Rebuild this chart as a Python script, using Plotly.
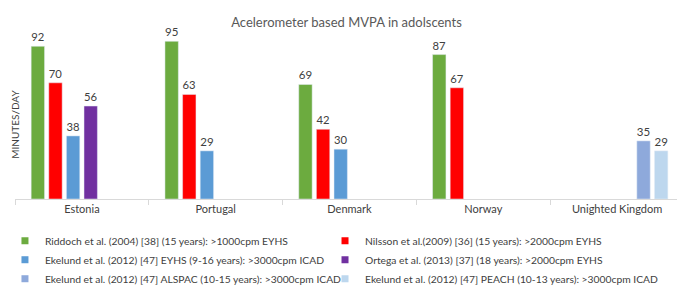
import plotly.graph_objects as go

categories = ["Estonia", "Portugal", "Denmark", "Norway", "Unighted Kingdom"]
series_names = [
    "Riddoch et al. (2004) [38] (15 years): >1000cpm EYHS",
    "Nilsson et al.(2009) [36] (15 years): >2000cpm EYHS",
    "Ekelund et al. (2012) [47] EYHS (9-16 years): >3000cpm ICAD",
    "Ortega et al. (2013) [37] (18 years): >2000cpm EYHS",
    "Ekelund et al. (2012) [47] ALSPAC (10-15 years): >3000cpm ICAD",
    "Ekelund et al. (2012) [47] PEACH (10-13 years): >3000cpm ICAD",
]
riddoch = [92, 95, 69, 87, None]
nilsson = [70, 63, 42, 67, None]
ekelund_eyhs = [38, 29, 30, None, None]
ortega = [56, None, None, None, None]
ekelund_alspac = [None, None, None, None, 35]
ekelund_peach = [None, None, None, None, 29]
series_values = [riddoch, nilsson, ekelund_eyhs, ortega, ekelund_alspac, ekelund_peach]
colors = ["#6CAB3F", "#FF0000", "#5B9BD5", "#7030A0", "#8EA9DB", "#BDD7EE"]
legend_column = ["legend", "legend2", "legend", "legend2", "legend", "legend2"]

FONT = "Lato"
TXT = "#404040"

fig = go.Figure()
for name, vals, col in zip(series_names, series_values, colors):
    fig.add_trace(go.Bar(
        x=categories, y=vals, name=name, marker_color=col, showlegend=False,
        text=[("" if v is None else str(v)) for v in vals],
        textposition="outside", cliponaxis=False,
        textfont=dict(family=FONT, size=11.5, color=TXT),
    ))
# legend entries with small square swatches, in two columns
for name, col, lg in zip(series_names, colors, legend_column):
    fig.add_trace(go.Scatter(
        x=[None], y=[None], mode="markers", name=name, legend=lg,
        marker=dict(symbol="square", size=7, color=col), showlegend=True,
    ))

legend_style = dict(orientation="v", y=-0.164, yanchor="top", xanchor="left",
                    font=dict(family=FONT, size=10.3, color=TXT),
                    itemwidth=30, tracegroupgap=0, traceorder="normal",
                    bgcolor="rgba(0,0,0,0)")

# page body has an 8px margin, so the figure is 677x279 drawn at (8, 8)
fig.update_layout(
    width=677, height=279,
    margin=dict(l=7, r=1, t=25, b=88, autoexpand=False),
    paper_bgcolor="white", plot_bgcolor="white",
    barmode="group", bargap=0.21, bargroupgap=0.24,
    font=dict(family=FONT, color=TXT),
    title=dict(text="Acelerometer based MVPA in adolscents", x=0.5, xanchor="center",
               y=0.95, yanchor="middle",
               font=dict(family=FONT, size=13, color="#595959")),
    showlegend=True,
    legend=dict(x=-0.015, **legend_style),
    legend2=dict(x=0.4634, **legend_style),
    annotations=[dict(text="MINUTES/DAY", textangle=-90, xref="paper", yref="paper",
                      x=-6.5 / 669, y=0.45, xanchor="left", yanchor="middle",
                      borderpad=0,
                      showarrow=False, font=dict(family=FONT, size=10, color=TXT))],
)
fig.update_xaxes(showline=True, linecolor="#D9D9D9", linewidth=1,
                 ticks="outside", tickson="boundaries", ticklen=5, tickcolor="#D9D9D9",
                 tickfont=dict(family=FONT, size=11, color=TXT), showgrid=False)
fig.update_yaxes(range=[0, 100], showticklabels=False, showgrid=False, zeroline=False,
                 showline=False)

fig.write_html("out.html")
